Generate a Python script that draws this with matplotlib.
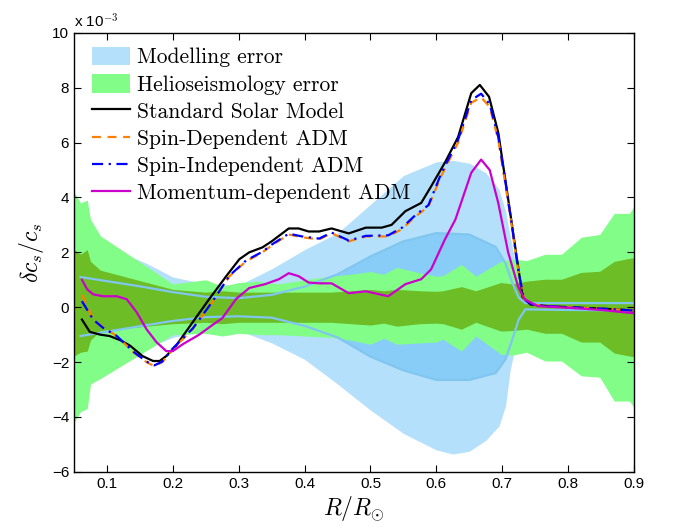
import matplotlib
matplotlib.use("Agg")
import matplotlib.pyplot as plt
from matplotlib.patches import Patch
from matplotlib.lines import Line2D

plt.rcParams['mathtext.fontset'] = 'cm'

# all y values in units of 1e-3
# helioseismology error bands
x_h = [0.05, 0.06, 0.07, 0.075, 0.09, 0.2, 0.25, 0.275, 0.3, 0.33, 0.36, 0.4, 0.44, 0.47, 0.5, 0.52,
       0.54, 0.575, 0.6, 0.61, 0.638, 0.66, 0.698, 0.715, 0.737, 0.765, 0.79, 0.82, 0.848, 0.87, 0.893, 0.9]
h2_hi = [4.2, 3.8, 3.9, 3.2, 2.6, 0.85, 1.0, 0.76, 0.9, 0.95, 0.85, 1.0, 1.13, 1.2, 1.3, 1.2,
         1.45, 1.25, 1.13, 1.15, 1.56, 1.13, 1.67, 1.75, 1.7, 1.93, 1.93, 2.55, 2.65, 3.42, 3.42, 3.67]
h2_lo = [-4.2, -3.8, -3.7, -2.8, -2.6, -1.0, -0.95, -1.05, -0.95, -1.0, -1.0, -1.05, -1.1, -1.2, -1.35, -1.13,
         -1.35, -1.3, -1.27, -1.16, -1.6, -1.05, -1.71, -1.75, -1.64, -1.96, -1.96, -2.5, -2.55, -3.42, -3.42, -3.64]
h1_hi = [2.1, 1.93, 2.1, 1.67, 1.35, 0.65, 0.55, 0.6, 0.55, 0.55, 0.55, 0.55, 0.55, 0.6, 0.65, 0.6,
         0.65, 0.6, 0.58, 0.6, 0.75, 0.6, 0.9, 0.85, 0.95, 1.02, 1.02, 1.27, 1.31, 1.67, 1.78, 1.8]
h1_lo = [-1.78, -1.64, -1.6, -1.2, -0.85, -0.6, -0.55, -0.6, -0.55, -0.55, -0.55, -0.55, -0.55, -0.6, -0.65, -0.58,
         -0.69, -0.6, -0.58, -0.6, -0.8, -0.55, -0.87, -0.85, -0.8, -0.95, -0.95, -1.27, -1.27, -1.67, -1.78, -1.8]

# modelling error bands
x_mo = [0.06, 0.12, 0.16, 0.2, 0.25, 0.3, 0.35, 0.4, 0.45, 0.5, 0.55, 0.6, 0.625, 0.65, 0.675,
        0.695, 0.705, 0.712, 0.72, 0.73]
mo_hi = [2.4, 2.0, 1.6, 1.1, 0.85, 0.8, 1.4, 2.1, 2.7, 3.75, 4.8, 5.3, 5.35, 5.25, 4.9,
         4.3, 3.5, 2.6, 1.6, 0.3]
mo_lo = [-2.4, -2.0, -1.5, -1.1, -0.85, -0.85, -1.3, -1.9, -2.8, -3.75, -4.6, -5.2, -5.35, -5.25, -4.85,
         -4.33, -3.6, -2.3, -1.4, -0.3]
x_mi = [0.06, 0.15, 0.2, 0.25, 0.3, 0.35, 0.4, 0.45, 0.5, 0.55, 0.6, 0.65, 0.69, 0.705, 0.715,
        0.725, 0.735, 0.8, 0.9]
mi_hi = [1.1, 0.76, 0.55, 0.38, 0.33, 0.45, 0.75, 1.2, 1.85, 2.4, 2.7, 2.65, 2.2, 1.6, 0.9,
         0.35, 0.15, 0.15, 0.15]
mi_lo = [-1.05, -0.69, -0.5, -0.36, -0.33, -0.38, -0.68, -1.1, -1.8, -2.3, -2.65, -2.65, -2.4, -1.9, -1.2,
         -0.45, -0.08, -0.1, -0.12]

# standard solar model
x_ssm = [0.062, 0.074, 0.09, 0.104, 0.12, 0.135, 0.154, 0.17, 0.18, 0.19, 0.205, 0.23, 0.255, 0.281,
         0.301, 0.316, 0.336, 0.35, 0.376, 0.391, 0.406, 0.422, 0.441, 0.467, 0.493, 0.517, 0.532,
         0.553, 0.577, 0.592, 0.613, 0.633, 0.653, 0.666, 0.68, 0.694, 0.704, 0.713, 0.724, 0.731,
         0.743, 0.769, 0.8, 0.85, 0.9]
ssm = [-0.45, -0.9, -1.0, -1.05, -1.2, -1.4, -1.78, -1.96, -1.96, -1.78, -1.4, -0.55, 0.29, 1.13,
       1.75, 2.0, 2.18, 2.4, 2.87, 2.87, 2.76, 2.76, 2.87, 2.69, 2.9, 2.9, 3.0,
       3.5, 3.8, 4.4, 5.27, 6.2, 7.8, 8.1, 7.67, 6.36, 4.76, 3.3, 1.5, 0.36,
       0.1, 0.04, 0.0, -0.05, -0.12]

# spin-dependent / spin-independent ADM
x_adm = [0.062, 0.079, 0.094, 0.115, 0.14, 0.16, 0.172, 0.184, 0.2, 0.23, 0.26, 0.286, 0.311, 0.336,
         0.35, 0.376, 0.396, 0.422, 0.441, 0.467, 0.493, 0.527, 0.548, 0.568, 0.588, 0.607, 0.633,
         0.653, 0.668, 0.681, 0.694, 0.704, 0.713, 0.724, 0.733, 0.745, 0.77, 0.8, 0.85, 0.9]
sd = [0.45, -0.44, -0.73, -1.05, -1.64, -2.0, -2.15, -2.0, -1.53, -0.8, 0.18, 1.13, 1.67, 2.0,
      2.25, 2.65, 2.55, 2.47, 2.7, 2.4, 2.58, 2.58, 2.85, 3.3, 3.67, 4.76, 6.0,
      7.45, 7.65, 7.3, 6.1, 4.6, 3.2, 1.4, 0.3, 0.1, 0.04, 0.0, -0.05, -0.12]
si = [0.22, -0.45, -0.75, -1.05, -1.62, -1.98, -2.12, -1.98, -1.5, -0.78, 0.2, 1.15, 1.7, 2.02,
      2.28, 2.68, 2.58, 2.5, 2.72, 2.43, 2.6, 2.62, 2.9, 3.35, 3.72, 4.85, 6.1,
      7.55, 7.78, 7.4, 6.2, 4.7, 3.25, 1.4, 0.3, 0.1, 0.04, 0.0, -0.05, -0.12]

# momentum-dependent ADM
x_md = [0.062, 0.07, 0.079, 0.094, 0.115, 0.13, 0.145, 0.16, 0.175, 0.19, 0.2, 0.215, 0.24, 0.26,
        0.275, 0.296, 0.316, 0.34, 0.361, 0.376, 0.391, 0.406, 0.422, 0.441, 0.467, 0.493, 0.527,
        0.553, 0.577, 0.592, 0.613, 0.629, 0.653, 0.668, 0.681, 0.694, 0.709, 0.724, 0.734, 0.754,
        0.8, 0.85, 0.9]
md = [1.0, 0.65, 0.47, 0.4, 0.4, 0.29, -0.18, -0.8, -1.27, -1.6, -1.6, -1.35, -1.0, -0.65,
      -0.4, 0.3, 0.7, 0.84, 1.02, 1.24, 1.13, 0.9, 0.87, 0.87, 0.51, 0.58, 0.4,
      0.84, 1.02, 1.38, 2.47, 3.2, 4.9, 5.38, 5.0, 3.8, 2.0, 0.76, 0.29, 0.04,
      -0.02, -0.1, -0.22]

c_mo_out = '#B5E0FB'
c_mo_in = '#88CDF8'
c_h_out = '#82FE88'
c_h_in = '#6CBD26'
c_mo_line = '#80C6EE'

fig = plt.figure(figsize=(6.73, 5.29), dpi=100)
ax = fig.add_axes([0.110, 0.108, 0.832, 0.830])

ax.fill_between(x_mo, mo_lo, mo_hi, color=c_mo_out, lw=0)
ax.fill_between(x_mi, mi_lo, mi_hi, color=c_mo_in, lw=0)
ax.fill_between(x_h, h2_lo, h2_hi, color=c_h_out, lw=0)
ax.fill_between(x_h, h1_lo, h1_hi, color=c_h_in, lw=0)
ax.plot(x_mi, mi_hi, color=c_mo_line, lw=1.6)
ax.plot(x_mi, mi_lo, color=c_mo_line, lw=1.6)

ax.plot(x_ssm, ssm, color='black', lw=1.6)
ax.plot(x_adm, sd, color='#FF7F00', lw=1.6, ls=(0, (4, 3)))
ax.plot(x_adm, si, color='#0000FF', lw=1.6, ls=(0, (5, 2.5, 1, 2.5)))
ax.plot(x_md, md, color='#CC00CC', lw=1.6)

ax.set_xlim(0.05, 0.9)
ax.set_ylim(-6, 10)
ax.set_xticks([0.1, 0.2, 0.3, 0.4, 0.5, 0.6, 0.7, 0.8, 0.9])
ax.set_xticklabels(['0.1', '0.2', '0.3', '0.4', '0.5', '0.6', '0.7', '0.8', '0.9'])
ax.set_yticks([-6, -4, -2, 0, 2, 4, 6, 8, 10])
ax.tick_params(direction='in', top=True, right=True, length=5, width=0.8, labelsize=11)
for lab in ax.get_xticklabels() + ax.get_yticklabels():
    lab.set_fontfamily('Liberation Sans')
for s in ax.spines.values():
    s.set_linewidth(1.0)

ax.text(0.0, 1.004, r'x 10$^{-3}$', transform=ax.transAxes, ha='left', va='bottom',
        fontsize=11, family='Liberation Sans')
ax.set_xlabel(r'$R/R_{\odot}$', fontsize=17, labelpad=2)
ax.set_ylabel(r'$\delta c_s/c_s$', fontsize=17, labelpad=4)

handles = [Patch(facecolor=c_mo_out, edgecolor='none'),
           Patch(facecolor=c_h_out, edgecolor='none'),
           Line2D([], [], color='black', lw=1.6),
           Line2D([], [], color='#FF7F00', lw=1.6, ls=(0, (4, 3))),
           Line2D([], [], color='#0000FF', lw=1.6, ls=(0, (5, 2.5, 1, 2.5))),
           Line2D([], [], color='#CC00CC', lw=1.6)]
labels = ['Modelling error', 'Helioseismology error', 'Standard Solar Model',
          'Spin-Dependent ADM', 'Spin-Independent ADM', 'Momentum-dependent ADM']
leg = ax.legend(handles, labels, loc='upper left', bbox_to_anchor=(0.029, 0.973), frameon=False,
                prop={'family': 'cmr10', 'size': 15.5}, handlelength=1.75, handleheight=0.95,
                handletextpad=0.3, labelspacing=0.3, borderpad=0.1, borderaxespad=0)

fig.savefig('out.png', dpi=100)
